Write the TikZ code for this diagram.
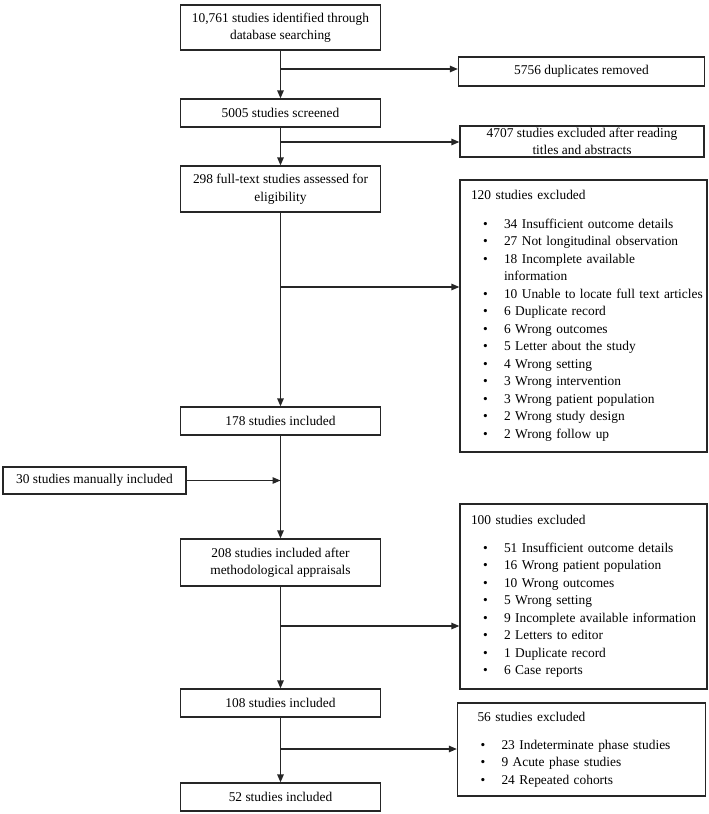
\documentclass[tikz,border=0pt]{standalone}
\usepackage{fontspec}
\setmainfont{Liberation Serif}
\usetikzlibrary{shapes,arrows.meta,calc}
\definecolor{gray9}{gray}{0.15}
\newcommand{\bul}[1]{\mbox{\makebox[33pt][l]{\hspace{12pt}\textbullet}#1}}
\newcommand{\cont}[1]{\mbox{\hspace*{33pt}#1}}
\tikzset{
    txt/.style={font=\fontsize{13.4}{17.5}\selectfont},
    mainbox/.style={txt, draw=gray9, line width=1.3pt, rectangle, align=center, minimum width=200pt, minimum height=28pt, inner sep=0pt},
    sidebox/.style={txt, draw=gray9, line width=1.3pt, rectangle, align=center, inner sep=0pt},
    listbox/.style={txt, draw=gray9, line width=1.3pt, rectangle, align=left, text width=225pt, inner xsep=11pt, inner ysep=0pt}
}

\begin{document}
\begin{tikzpicture}[x=1pt, y=-1pt, >={Triangle[length=8pt,width=6.5pt]}]
    \useasboundingbox (0,0) rectangle (709,814);
    \path (280.5,27.5) node[mainbox, minimum height=45pt] (id-db) {10,761 studies identified through\\database searching};
    \path (280.5,113) node[mainbox] (screened) {5005 studies screened};
    \path (280.5,189) node[mainbox, minimum height=46pt] (full-text) {298 full-text studies assessed for\\eligibility};
    \path (280.5,421) node[mainbox] (inc-178) {178 studies included};
    \path (280.5,562.5) node[mainbox, minimum height=47pt] (inc-208) {208 studies included after\\methodological appraisals};
    \path (280.5,703) node[mainbox] (inc-108) {108 studies included};
    \path (280.5,797) node[mainbox] (inc-52) {52 studies included};

    \path (581.5,71.5) node[sidebox, minimum width=246pt, minimum height=29pt] (dup-rm) {5756 duplicates removed};
    \path (582,141.5) node[sidebox, minimum width=244pt, minimum height=31pt] (excl-tiab) {4707 studies excluded after reading\\titles and abstracts};
    \path (94.5,480.5) node[sidebox, minimum width=183pt, minimum height=27pt] (man-inc) {30 studies manually included};

    % exclusion lists
    \path (583.5,316) node[listbox, minimum height=272pt] (excl-120) {120 studies excluded\\[11pt]
        \bul{34 Insufficient outcome details}\\ \bul{27 Not longitudinal observation}\\
        \bul{18 Incomplete available}\\ \cont{information}\\
        \bul{10 Unable to locate full text articles}\\ \bul{6 Duplicate record}\\
        \bul{6 Wrong outcomes}\\ \bul{5 Letter about the study}\\ \bul{4 Wrong setting}\\
        \bul{3 Wrong intervention}\\ \bul{3 Wrong patient population}\\
        \bul{2 Wrong study design}\\ \bul{2 Wrong follow up}};
    \path (583.5,596.5) node[listbox, minimum height=185pt] (excl-100) {100 studies excluded\\[10.5pt]
        \bul{51 Insufficient outcome details}\\ \bul{16 Wrong patient population}\\
        \bul{10 Wrong outcomes}\\ \bul{5 Wrong setting}\\ \bul{9 Incomplete available information}\\
        \bul{2 Letters to editor}\\ \bul{1 Duplicate record}\\ \bul{6 Case reports}};
    \path (581.5,749.5) node[listbox, minimum height=93pt, text width=226pt] (excl-56) {\hspace*{9pt}56 studies excluded\\[10.5pt]
        \bul{23 Indeterminate phase studies}\\ \bul{9 Acute phase studies}\\ \bul{24 Repeated cohorts}};

    \coordinate (j-dup) at (280.5,69);
    \coordinate (j-tiab) at (280.5,142);
    \coordinate (j-120) at (280.5,287);
    \coordinate (j-100) at (280.5,626);
    \coordinate (j-56) at (280.5,749);

    \draw[->, line width=1.3pt, gray9] (id-db) -- (screened);
    \draw[->, line width=1.3pt, gray9] (screened) -- (full-text);
    \draw[->, line width=1.3pt, gray9] (full-text) -- (inc-178);
    \draw[->, line width=1.3pt, gray9] (inc-178) -- (inc-208);
    \draw[->, line width=1.3pt, gray9] (inc-208) -- (inc-108);
    \draw[->, line width=1.3pt, gray9] (inc-108) -- (inc-52);
    \draw[->, line width=1.3pt, gray9] (j-dup) -- (j-dup -| dup-rm.west);
    \draw[->, line width=1.3pt, gray9] (j-tiab) -- (j-tiab -| excl-tiab.west);
    \draw[->, line width=1.3pt, gray9] (j-120) -- (j-120 -| excl-120.west);
    \draw[->, line width=1.3pt, gray9] (man-inc) -- (man-inc -| inc-178.south);
    \draw[->, line width=1.3pt, gray9] (j-100) -- (j-100 -| excl-100.west);
    \draw[->, line width=1.3pt, gray9] (j-56) -- (j-56 -| excl-56.west);
\end{tikzpicture}
\end{document}
